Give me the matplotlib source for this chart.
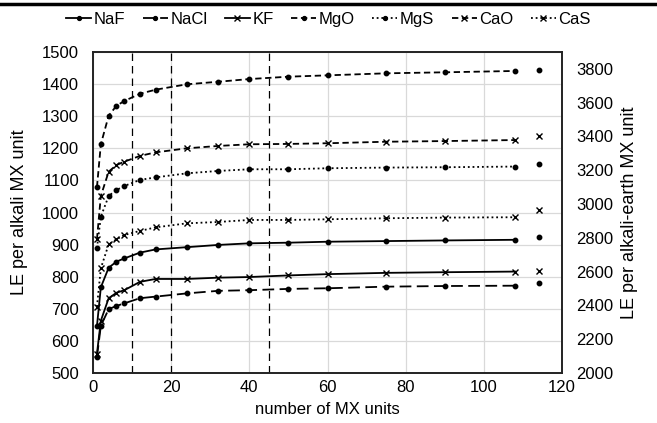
import matplotlib
matplotlib.use('Agg')
import matplotlib.pyplot as plt
from matplotlib.lines import Line2D

plt.rcParams['font.family'] = ['Liberation Sans', 'DejaVu Sans']
plt.rcParams['font.size'] = 12

# cluster sizes and bulk position
n = [1, 2, 4, 6, 8, 12, 16, 24, 32, 40, 50, 60, 75, 90, 108]
bulk_x = 114

# alkali halides (left axis)
NaF = [646, 767, 828, 847, 857, 875, 885, 892, 899, 904, 906, 909, 911, 913, 915]
NaCl = [550, 647, 699, 709, 717, 733, 738, 748, 756, 758, 762, 764, 769, 771, 772]
KF = [560, 663, 733, 750, 758, 784, 793, 793, 797, 799, 804, 808, 812, 814, 816]

# alkali-earth (right axis)
MgO = [3099, 3354, 3523, 3582, 3610, 3653, 3677, 3709, 3724, 3740, 3754, 3762, 3774, 3780, 3788]
MgS = [2739, 2925, 3048, 3083, 3107, 3143, 3158, 3182, 3196, 3206, 3206, 3212, 3216, 3218, 3222]
CaO = [2791, 3048, 3192, 3231, 3251, 3285, 3306, 3330, 3344, 3354, 3356, 3360, 3369, 3373, 3379]
CaS = [2392, 2620, 2762, 2791, 2817, 2841, 2862, 2886, 2894, 2906, 2906, 2910, 2916, 2920, 2922]

bulk_left = {'NaF': 923, 'NaCl': 779, 'KF': 819}
bulk_right = {'MgO': 3791, 'MgS': 3238, 'CaO': 3405, 'CaS': 2966}

vlines = [10, 20, 45]

fig = plt.figure(figsize=(6.57, 4.23), dpi=100)
ax = fig.add_axes([0.1416, 0.1182, 0.7138, 0.7588])
ax2 = ax.twinx()

lw = 1.3
dash = (0, (3.5, 2))
longdash = (0, (6.5, 3))
dot = (0, (1, 1.6))

styles = {
    'NaF': ('-', 'o'),
    'NaCl': (longdash, 'o'),
    'KF': ('-', 'x'),
    'MgO': (dash, 'o'),
    'MgS': (dot, 'o'),
    'CaO': (dash, 'x'),
    'CaS': (dot, 'x'),
}

def draw(a, name, vals, bulk):
    ls, mk = styles[name]
    ms = 3.2 if mk == 'o' else 4.2
    a.plot(n, vals, color='black', linestyle=ls, linewidth=lw, marker=mk,
           markersize=ms, markeredgewidth=1.0, label=name)
    a.plot([bulk_x], [bulk], color='black', linestyle='none', marker=mk,
           markersize=ms, markeredgewidth=1.0)

draw(ax, 'NaF', NaF, bulk_left['NaF'])
draw(ax, 'NaCl', NaCl, bulk_left['NaCl'])
draw(ax, 'KF', KF, bulk_left['KF'])
draw(ax2, 'MgO', MgO, bulk_right['MgO'])
draw(ax2, 'MgS', MgS, bulk_right['MgS'])
draw(ax2, 'CaO', CaO, bulk_right['CaO'])
draw(ax2, 'CaS', CaS, bulk_right['CaS'])

for v in vlines:
    ax.plot([v, v], [500, 1500], color='black', linewidth=0.9,
            linestyle=(0, (6, 4)))

ax.set_xlim(0, 120)
ax.set_ylim(500, 1500)
ax.set_xticks(range(0, 121, 20))
ax.set_yticks(range(500, 1501, 100))
ax2.set_ylim(2000, 3900)
ax2.set_yticks(range(2000, 3801, 200))

ax.grid(True, color='#d9d9d9', linewidth=0.9)
ax.set_axisbelow(True)
ax.tick_params(axis='y', length=0, labelsize=12, pad=10)
ax.tick_params(axis='x', length=0, labelsize=12, pad=5)
ax2.tick_params(axis='y', length=0, labelsize=12, pad=10)
for a in (ax, ax2):
    for s in a.spines.values():
        s.set_color('#222222')
        s.set_linewidth(1.2)

ax.set_xlabel('number of MX units', fontsize=12, labelpad=5)
ax.set_ylabel('LE per alkali MX unit', fontsize=13, labelpad=10)
ax2.set_ylabel('LE per alkali-earth MX unit', fontsize=13, labelpad=6)

order = ['NaF', 'NaCl', 'KF', 'MgO', 'MgS', 'CaO', 'CaS']
handles = []
for name in order:
    ls, mk = styles[name]
    ms = 2.8 if mk == 'o' else 3.8
    handles.append(Line2D([0], [0], color='black', linestyle=ls, linewidth=lw,
                          marker=mk, markersize=ms, markeredgewidth=1.0))
fig.legend(handles, order, loc='center', bbox_to_anchor=(0.5, 0.955), ncol=7,
           frameon=False, fontsize=12, handlelength=1.5, handletextpad=0.15,
           columnspacing=1.05)

# thick rule at the top of the figure
fig.add_artist(Line2D([0, 1], [0.99, 0.99], color='black', linewidth=2.5,
                      transform=fig.transFigure))

fig.savefig('out.png', dpi=100)
